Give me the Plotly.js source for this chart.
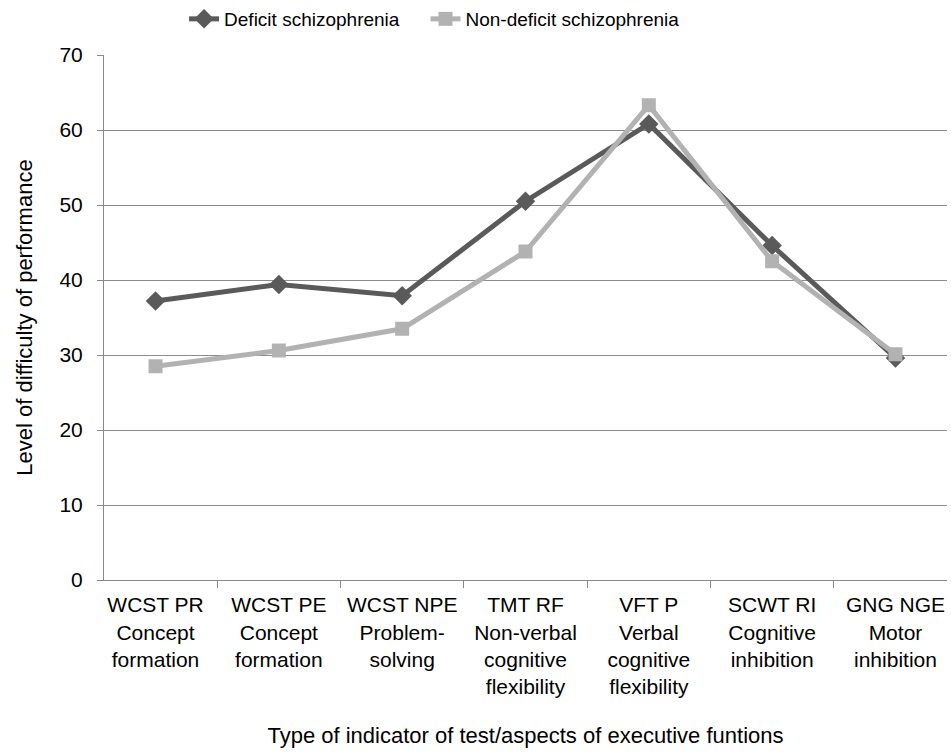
<!DOCTYPE html>
<html>
<head>
<meta charset="utf-8">
<script src="https://cdn.plot.ly/plotly-3.0.1.min.js"></script>
<style>body{margin:0;background:#fff}</style>
</head>
<body>
<div id="chart" style="width:951px;height:753px"></div>
<script>
    var categories = [
        'WCST PR<br>Concept<br>formation',
        'WCST PE<br>Concept<br>formation',
        'WCST NPE<br>Problem-<br>solving',
        'TMT RF<br>Non-verbal<br>cognitive<br>flexibility',
        'VFT P<br>Verbal<br>cognitive<br>flexibility',
        'SCWT RI<br>Cognitive<br>inhibition',
        'GNG NGE<br>Motor<br>inhibition'
    ];
    var deficit = [37.2, 39.4, 37.9, 50.5, 60.8, 44.6, 29.6];
    var nonDeficit = [28.5, 30.6, 33.5, 43.8, 63.3, 42.5, 30.1];

    var data = [
        {x: categories, y: deficit, name: 'Deficit schizophrenia\u00a0\u00a0\u00a0\u00a0',
         type: 'scatter', mode: 'lines+markers',
         line: {color: '#5a5a5a', width: 5},
         marker: {symbol: 'diamond', size: 15, color: '#5a5a5a'}},
        {x: categories, y: nonDeficit, name: 'Non-deficit schizophrenia',
         type: 'scatter', mode: 'lines+markers',
         line: {color: '#b2b2b2', width: 5},
         marker: {symbol: 'square', size: 14, color: '#b2b2b2'}}
    ];

    var layout = {
        width: 951, height: 753,
        margin: {l: 104, r: 4, t: 55, b: 173},
        paper_bgcolor: '#fff', plot_bgcolor: '#fff',
        font: {family: 'Liberation Sans, Arial, sans-serif', size: 21, color: '#000'},
        showlegend: true,
        legend: {orientation: 'h', x: 0.095, xanchor: 'left',
                 yref: 'container', y: 1, yanchor: 'top',
                 font: {size: 19}, itemwidth: 30},
        xaxis: {
            type: 'category', automargin: false,
            showline: true, linecolor: '#888', linewidth: 1,
            ticks: 'outside', tickson: 'boundaries', ticklen: 7, tickcolor: '#888',
            ticklabelstandoff: 6,
            showgrid: false, zeroline: false,
            tickfont: {size: 21},
            title: {text: 'Type of indicator of test/aspects of executive funtions',
                    font: {size: 22}, standoff: 30}
        },
        yaxis: {
            range: [0, 70], dtick: 10, automargin: false,
            showline: true, linecolor: '#888', linewidth: 1,
            ticks: 'outside', ticklen: 6, tickcolor: '#888',
            ticklabelstandoff: 10,
            showgrid: true, gridcolor: '#8c8c8c', gridwidth: 1,
            zeroline: false,
            tickfont: {size: 21},
            title: {text: 'Level of difficulty of performance', font: {size: 22}, standoff: 20}
        }
    };
    var config = {responsive: false, displayModeBar: false};
    Plotly.newPlot('chart', data, layout, config);
</script>
</body>
</html>
